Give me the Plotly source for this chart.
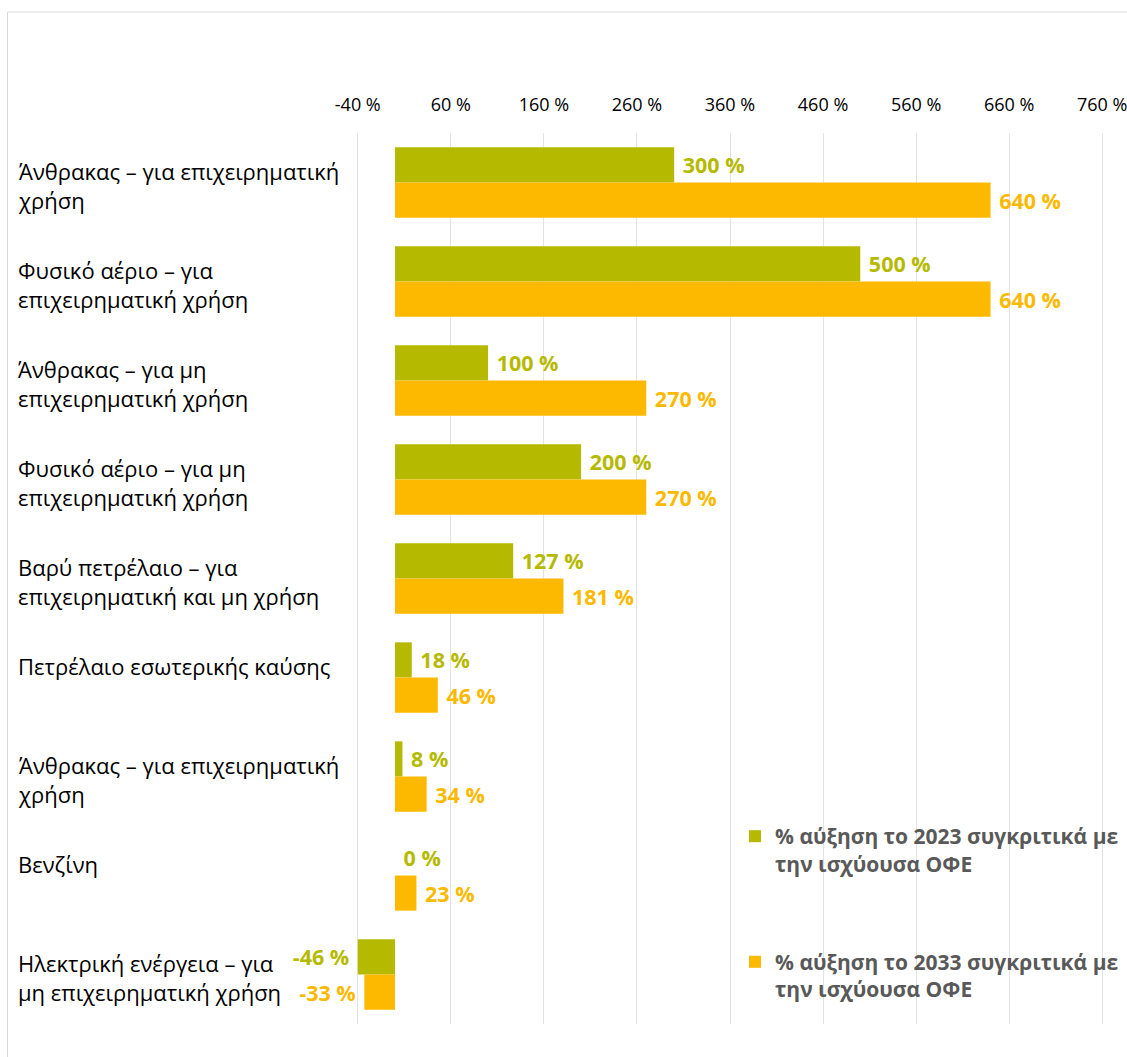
import plotly.graph_objects as go

categories = [
    "Άνθρακας – για επιχειρηματική<br>χρήση",
    "Φυσικό αέριο – για<br>επιχειρηματική χρήση",
    "Άνθρακας – για μη<br>επιχειρηματική χρήση",
    "Φυσικό αέριο – για μη<br>επιχειρηματική χρήση",
    "Βαρύ πετρέλαιο – για<br>επιχειρηματική και μη χρήση",
    "Πετρέλαιο εσωτερικής καύσης",
    "Άνθρακας – για επιχειρηματική<br>χρήση",
    "Βενζίνη",
    "Ηλεκτρική ενέργεια – για<br>μη επιχειρηματική χρήση",
]
values_2023 = [300, 500, 100, 200, 127, 18, 8, 0, -46]
values_2033 = [640, 640, 270, 270, 181, 46, 34, 23, -33]
series_names = [
    "% αύξηση το 2023 συγκριτικά με<br>την ισχύουσα ΟΦΕ",
    "% αύξηση το 2033 συγκριτικά με<br>την ισχύουσα ΟΦΕ",
]
tick_values = [-40, 60, 160, 260, 360, 460, 560, 660, 760]
XMIN, XMAX = -40, 760

GREEN = "#B5BA00"
ORANGE = "#FCB900"
FONT = "Open Sans"
NB = "\u00a0"

ypos = list(range(len(categories)))


def label(v):
    return f"{NB}{v} %" if v >= 0 else f"{v} %{NB}"


fig = go.Figure()
for name, vals, col, grp in [
    (series_names[0], values_2023, GREEN, "a"),
    (series_names[1], values_2033, ORANGE, "b"),
]:
    fig.add_trace(go.Bar(
        name=name, y=ypos, x=[max(v, XMIN) for v in vals], orientation="h",
        marker=dict(color=col, line=dict(width=0)),
        text=[label(v) for v in vals], textposition="outside",
        textfont=dict(family=FONT, size=21.5, color=col, weight="bold"),
        cliponaxis=False, legendgroup=grp, hovertext=[f"{v} %" for v in vals],
    ))

for i, c in enumerate(categories):
    fig.add_annotation(
        x=-0.4525, xref="paper", y=i, yref="y", text=c, showarrow=False,
        xanchor="left", yanchor="top", align="left", yshift=29,
        font=dict(family=FONT, size=22, color="#000000"),
    )

fig.add_shape(type="rect", xref="paper", yref="paper",
              x0=-0.4633, x1=1.2, y0=-0.2, y1=1.1358,
              line=dict(color="#D9D9D9", width=1), layer="below")

fig.update_layout(
    width=1127, height=1057,
    margin=dict(l=355, r=22, t=133, b=33, autoexpand=False),
    paper_bgcolor="white", plot_bgcolor="white",
    barmode="group", bargap=0.29, bargroupgap=0,
    font=dict(family=FONT),
    xaxis=dict(
        side="top", range=[XMIN - 3, XMAX + 3], tickvals=tick_values,
        ticktext=[f"{t} %" for t in tick_values],
        showgrid=True, gridcolor="#E3E3E3", gridwidth=1,
        zeroline=False, showline=False, ticks="", automargin=False,
        ticklabeloverflow="allow",
        tickfont=dict(family=FONT, size=18, color="#000000"),
        ticklabelstandoff=17,
    ),
    yaxis=dict(
        range=[8.5, -0.5], tickvals=ypos, showticklabels=False,
        showgrid=False, zeroline=False, showline=False, automargin=False,
    ),
    legend=dict(
        x=0.5067, y=0.2334, xanchor="left", yanchor="top", valign="top",
        font=dict(family=FONT, size=21, color="#595959", weight="bold"),
        traceorder="grouped", tracegroupgap=68, itemwidth=30,
        bgcolor="rgba(0,0,0,0)",
    ),
)

fig.write_html("out.html", config={"displayModeBar": False},
               post_script="document.body.style.margin='0';document.body.style.overflow='hidden';")
